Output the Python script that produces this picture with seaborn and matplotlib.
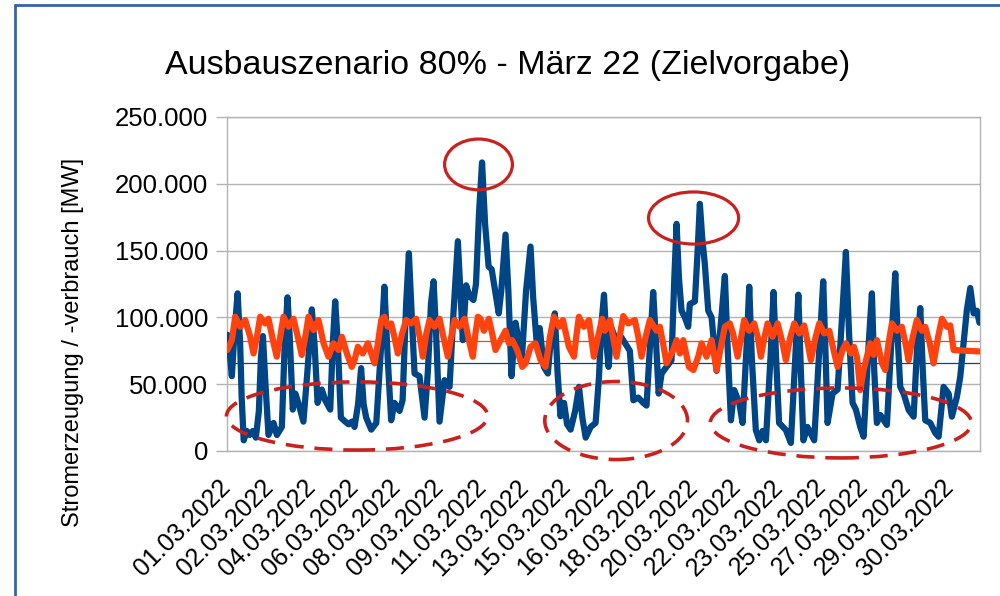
import matplotlib
matplotlib.use("Agg")
import matplotlib.pyplot as plt
import matplotlib.transforms as mtransforms
import seaborn as sns
import pandas as pd
import numpy as np
from matplotlib.patches import Ellipse
from matplotlib.lines import Line2D

sns.set_theme(style="white")
plt.rcParams['font.family'] = ['Liberation Sans', 'DejaVu Sans']

# ---------------- data ----------------
title = "Ausbauszenario 80% - März 22 (Zielvorgabe)"
y_label = "Stromerzeugung / -verbrauch [MW]"
n_hours = 744
label_hours = [0, 42, 84, 126, 168, 210, 252, 294, 336, 378, 420, 462, 504, 546, 588, 630, 672, 714]
date_labels = ["01.03.2022", "02.03.2022", "04.03.2022", "06.03.2022", "08.03.2022", "09.03.2022",
               "11.03.2022", "13.03.2022", "15.03.2022", "16.03.2022", "18.03.2022", "20.03.2022",
               "22.03.2022", "23.03.2022", "25.03.2022", "27.03.2022", "29.03.2022", "30.03.2022"]
y_ticks = [0, 50000, 100000, 150000, 200000, 250000]
y_tick_labels = ["0", "50.000", "100.000", "150.000", "200.000", "250.000"]

# generation (blue), hour index and thousand MW
gen_hours = [0, 2, 4.3, 7, 10, 12.5, 14, 16, 19, 22, 25, 28, 31, 33, 35, 37.5, 40.5, 45.5, 48.8, 53.7,
             56.5, 59.3, 61.5, 64.5, 67, 70, 75, 79, 83.3, 86, 89, 93.2, 96.5, 101.5, 104, 106.4, 109,
             112, 116.3, 119.6, 123, 125.5, 129, 132, 134.5, 137, 142, 147, 152, 155, 158.4, 161.7,
             165, 170, 173, 176.5, 179.2, 181.5, 184.8, 189.7, 194.7, 198, 201, 203.6, 206, 209.5,
             214.4, 219.4, 223, 227.6, 230, 232.5, 235.8, 239, 243, 245.5, 248.5, 251.5, 254.5, 258,
             261, 264, 268, 270.5, 274.7, 277.5, 280.6, 284.6, 288, 291, 295, 299.4, 302, 305.5, 308.5,
             312.5, 316.5, 320, 323.4, 326, 329, 332.5, 335.5, 339, 343.5, 347.3, 350.6, 353.9, 358.8,
             363.7, 367, 369.5, 372, 374.5, 376.5, 379.4, 382.7, 389.3, 397.5, 401, 405.8, 410.8, 414,
             417.5, 420.6, 423.5, 426, 428.9, 433.8, 438.7, 441.5, 443.7, 446, 448.6, 451.9, 455.2,
             456.8, 461.8, 464.5, 466.7, 469, 471.6, 475, 478.3, 483.2, 488, 491.4, 494, 497.4, 500.7,
             505.6, 508.9, 513, 515.5, 518, 522, 525.4, 528.7, 532, 536.5, 539.5, 542, 545, 551.7,
             556.6, 561, 564, 566.5, 569, 573, 579.7, 585, 588.6, 591, 592.9, 597.8, 602.8, 608, 611,
             614, 617.6, 620.9, 625.2, 628.5, 633.5, 636.7, 639, 641.6, 645, 651.5, 656.5, 659.8, 662.5,
             664.7, 668, 673, 677.9, 681.5, 684.5, 687, 689.4, 694.4, 699.3, 702.6, 707.5, 712.5, 715.7,
             720.7, 724, 727.3, 730.5, 733.9, 737.2, 740.4, 743]
gen_k = [87, 75, 56, 90, 118, 80, 40, 8, 15, 12, 15, 10, 30, 70, 86, 50, 12, 21, 12, 18,
         80, 115, 85, 31, 43, 36, 22, 60, 106, 80, 36, 46, 38, 31, 80, 112, 80,
         25, 22, 20, 22, 18, 35, 62, 35, 25, 16, 21, 81, 123, 68, 23,
         36, 30, 38, 110, 148, 110, 58, 56, 25, 60, 110, 127, 90, 22,
         53, 48, 100, 157, 120, 83, 124, 116, 113, 125, 178, 216, 170, 138,
         136, 122, 103, 120, 162, 120, 56, 96, 81, 71, 120, 153, 115, 81, 92,
         63, 58, 88, 103, 60, 26, 36, 20, 16, 30, 48, 25, 10, 18,
         21, 55, 95, 117, 80, 63, 92, 85.5, 85, 75, 38, 40, 36, 34,
         80, 119, 80, 43, 58, 63, 68, 130, 170, 130, 105, 100, 93,
         110, 112, 150, 185, 160, 140, 105, 100, 60, 100, 131, 80, 23, 45.6,
         36, 21, 80, 123, 70, 15.7, 8, 15, 8, 70, 119, 70, 21, 15.7,
         6, 70, 117, 60, 8, 18, 8, 80, 127, 70, 21, 43, 46, 110, 149,
         90, 36, 31, 18, 10.7, 80, 118, 60, 21, 27, 19.5, 90, 133, 80,
         48, 43, 30.7, 25.7, 80, 107, 60, 23, 21, 13.5, 10.7, 48, 43, 25.7,
         40.6, 55.6, 81, 105.5, 122, 103, 105, 96]

# consumption (orange), hour index and thousand MW
load_hours = [0, 4.3, 7.6, 12.5, 17.5, 22.4, 25.7, 29, 32.3, 37.3, 40.5, 45.5, 48.7, 52, 55.3, 60.3,
              65.2, 70.2, 73.4, 77, 80, 85, 89.9, 94.9, 99.8, 104.7, 109.7, 113, 117.9, 122.8, 125.5,
              128.8, 133.7, 138.7, 145.3, 148.5, 151.9, 155.1, 158.4, 161.7, 165, 168.3, 172.5, 176.5,
              181.4, 186.4, 190, 193, 196.5, 199.6, 204.5, 209.5, 214, 217.7, 221, 224.3, 229.2, 234.2,
              238.5, 242.4, 245, 247.4, 250, 253.3, 258.2, 261.5, 264.8, 269.8, 274.7, 278, 281.3, 286.2,
              291.2, 294.5, 299.4, 304.3, 309.3, 314.2, 318.5, 322.5, 327.5, 331.4, 337.3, 342.3, 345,
              347.2, 352.1, 357.1, 362, 366, 370.2, 372.8, 377.8, 381, 384.4, 388, 391, 395.9, 402.5,
              406, 409.1, 413, 417.3, 423.9, 427.2, 430.5, 433.8, 440.4, 443.7, 447, 450.3, 455.9, 460.3,
              465.1, 468.4, 473.3, 478.3, 483.2, 487.5, 491.4, 496.3, 499.5, 504, 507.5, 510.5, 515.5,
              520.4, 524, 527, 530.5, 533.6, 538.5, 543.5, 548, 551.7, 556, 560, 564.9, 569.8, 573,
              576.4, 581, 584.7, 589.6, 594.6, 599, 602.8, 607.7, 611, 616, 619, 622, 625.2, 628.5,
              631.7, 635, 638.3, 641.6, 646.6, 649.9, 653, 656.5, 661.5, 666.3, 670, 672.9, 677, 681.1,
              686.1, 689.4, 694, 697.6, 702, 705.9, 710.8, 714.1, 717.4, 743]
load_k = [75.6, 83, 100.5, 93, 98, 85.5, 73, 85, 100.5, 95.5, 99, 80.6, 70.6, 85, 100.5, 93,
          99, 83, 71.9, 86, 100.5, 90.6, 98, 80.6, 70.6, 80.6, 75.6, 85.5, 73, 63, 68,
          78, 73, 80.6, 65.6, 80, 98, 100.5, 93, 95.5, 85, 73, 88, 98,
          95.5, 99, 85, 70.6, 88, 98, 93, 99, 83, 70.6, 85, 98, 93, 99,
          83, 70.6, 88, 100.5, 99, 90, 99, 88, 75.6, 83, 90, 80.6, 83, 75.6,
          63, 65.6, 78, 80.6, 68, 63, 85, 100.5, 93, 98, 78, 70.6, 88,
          100.5, 93, 98, 70.6, 85, 99, 90, 98, 85, 70.6, 88, 101, 95.5, 98,
          85, 70.6, 85, 98, 90, 93, 80, 65.6, 75.6, 83, 73, 83, 63, 60.6,
          70.6, 80.6, 70.6, 83, 60.6, 78, 93, 95.5, 88, 70.6, 85, 98, 90,
          95.5, 85, 70.6, 85, 95.5, 85.5, 95.5, 82, 68, 85, 95.5, 88, 94, 82,
          68, 85, 95.5, 88, 90, 75, 63, 75.6, 80.6, 73, 78, 70, 45.6, 60.6,
          70.6, 80.6, 72, 83, 65.6, 60.6, 80, 95.5, 90, 93, 80, 68, 85, 98,
          90, 93, 80, 65.6, 85, 99, 93, 94, 75.6, 74.5]

mean_gen = 66000
mean_load = 82000

# annotation ellipses: (centre hour, centre MW, width in hours, height in MW)
peak_marks = [(248, 214500, 67, 38000), (460.5, 174400, 89, 39000)]
low_marks = [(128, 26200, 258, 51000), (384, 22800, 141, 58400), (606, 21000, 258, 52400)]

gen_df = pd.DataFrame({"Stunde": gen_hours, "MW": np.array(gen_k) * 1000})
load_df = pd.DataFrame({"Stunde": load_hours, "MW": np.array(load_k) * 1000})

# ---------------- plot ----------------
BLUE = "#004586"
ORANGE = "#ff420e"
GRID = "#b3b3b3"
RED = "#c9211e"

fig = plt.figure(figsize=(10, 5.96), dpi=100)
ax = fig.add_axes([0.227, 145 / 596, 0.753, 334 / 596])

ax.axhline(mean_gen, color=BLUE, lw=0.9, zorder=2)
ax.axhline(mean_load, color=ORANGE, lw=0.9, zorder=2)

sns.lineplot(data=gen_df, x="Stunde", y="MW", ax=ax, color=BLUE, linewidth=4.5,
             errorbar=None, solid_joinstyle="round", solid_capstyle="round", zorder=3)
sns.lineplot(data=load_df, x="Stunde", y="MW", ax=ax, color=ORANGE, linewidth=4.5,
             errorbar=None, solid_joinstyle="round", solid_capstyle="round", zorder=4)

for (cx, cy, w, h) in peak_marks:
    ax.add_patch(Ellipse((cx, cy), w, h, fill=False, ec=RED, lw=2.3, zorder=6, clip_on=False))
for (cx, cy, w, h) in low_marks:
    ax.add_patch(Ellipse((cx, cy), w, h, fill=False, ec=RED, lw=2.6, zorder=6, clip_on=False,
                         linestyle=(0, (5, 3))))

ax.set_xlim(-0.5, n_hours - 0.5)
ax.set_ylim(0, 250000)
ax.set_xlabel("")
ax.set_ylabel("")

ax.set_yticks(y_ticks)
ax.set_yticklabels(y_tick_labels, fontsize=18.5, color="black")
ax.yaxis.grid(True, color=GRID, lw=1.0)
ax.xaxis.grid(False)
ax.set_axisbelow(True)

ax.set_xticks(label_hours)
ax.set_xticklabels(date_labels, rotation=45, ha="right", va="top", rotation_mode="anchor",
                   fontsize=18, color="black")
ax.set_xticks(np.arange(-0.5, n_hours, 1), minor=True)
ax.tick_params(axis="x", which="minor", direction="out", length=8.6, width=0.4, color=GRID)
ax.tick_params(axis="x", which="major", direction="out", length=0, pad=15.5)
ax.tick_params(axis="y", which="both", direction="out", length=8, width=1.0, color=GRID, pad=5.5,
               left=True)

offset = mtransforms.ScaledTranslation(-9 / 100, -2 / 100, fig.dpi_scale_trans)
for lbl in ax.get_xticklabels():
    lbl.set_transform(lbl.get_transform() + offset)

for side in ["left", "right", "top", "bottom"]:
    ax.spines[side].set_visible(True)
    ax.spines[side].set_color(GRID)
    ax.spines[side].set_linewidth(1.0)

fig.text(0.508, 1 - 74 / 596, title, ha="center", va="baseline", fontsize=24.5, color="black")
fig.text(0.073, 1 - 342 / 596, y_label, ha="center", va="center", rotation=90, fontsize=17,
         color="black")

# outer frame (partial, as in the reference crop)
fig.add_artist(Line2D([0.015, 0.015], [0, 1 - 5 / 596], transform=fig.transFigure,
                      color="#3465a4", lw=2.0))
fig.add_artist(Line2D([0.015, 1.0], [1 - 5 / 596, 1 - 5 / 596], transform=fig.transFigure,
                      color="#3465a4", lw=2.0))

fig.savefig("out.png", dpi=100, facecolor="white")
